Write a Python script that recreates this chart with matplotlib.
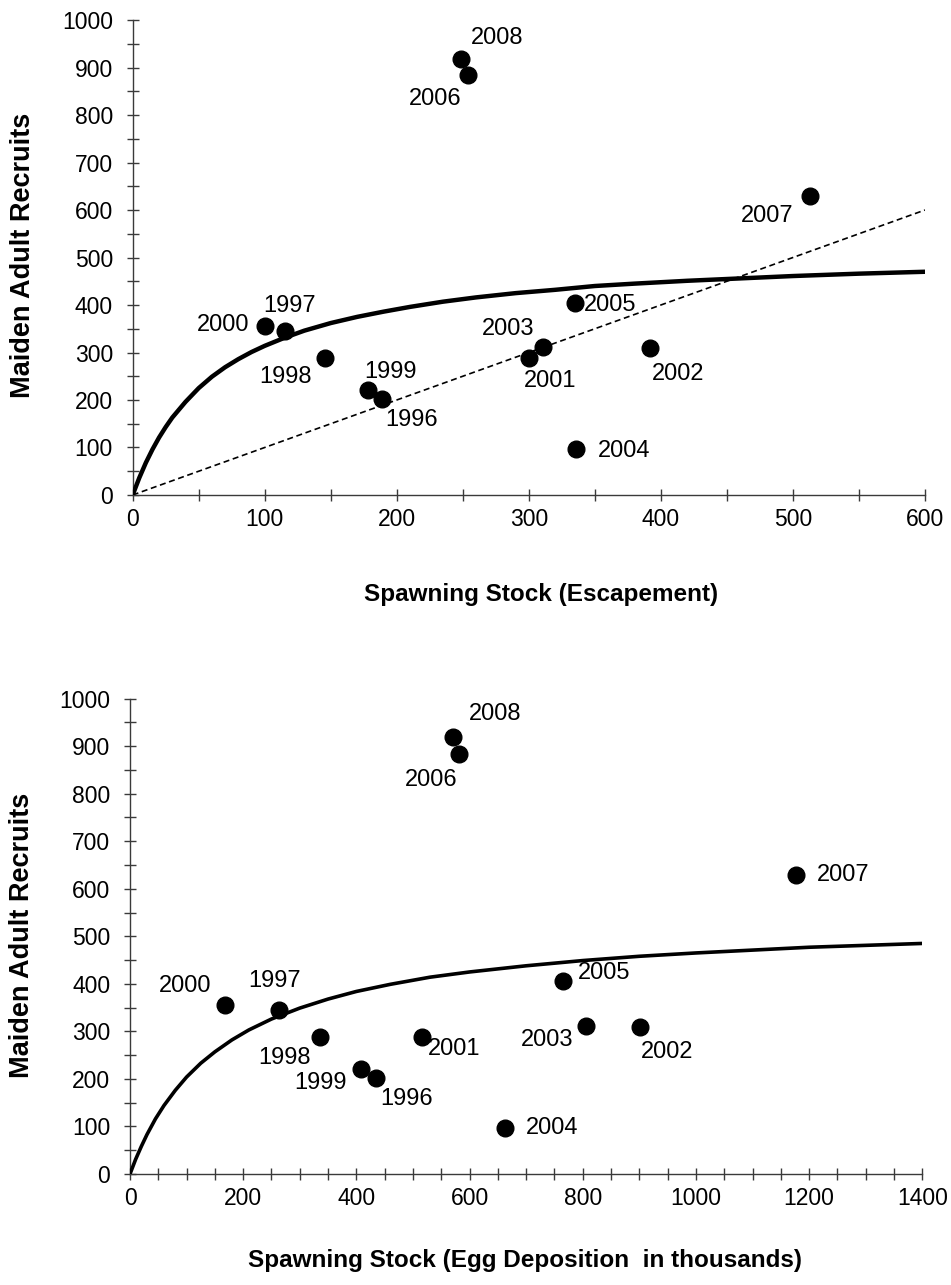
import numpy as np
import matplotlib.pyplot as plt
from matplotlib.ticker import MultipleLocator

plt.rcParams['font.family'] = ['Liberation Sans', 'DejaVu Sans']

# ---------- datos ----------
years = ['1996', '1997', '1998', '1999', '2000', '2001', '2002',
         '2003', '2004', '2005', '2006', '2007', '2008']
recruits = [202, 345, 289, 221, 356, 289, 309, 311, 96, 405, 884, 629, 919]

escapement = [189, 115, 146, 178, 100, 300, 392, 311, 336, 335, 254, 513, 249]
eggs = [434, 264, 336, 408, 167, 516, 901, 805, 663, 765, 582, 1177, 570]

# curva stock-reclutamiento
bh_esc_x = [0, 5, 10, 15, 20, 25, 30, 40, 50, 60, 70, 80, 90, 100, 115, 130, 150,
            170, 190, 210, 235, 260, 290, 320, 350, 380, 420, 460, 500, 550, 600]
bh_esc_y = [0, 36, 68, 96, 121, 143, 163, 196, 225, 249, 269, 286, 301, 314, 331,
            346, 362, 375, 386, 396, 407, 416, 425, 432, 440, 445, 451, 456, 461,
            466, 470]

bh_egg_x = [0, 10, 20, 30, 45, 60, 80, 100, 125, 150, 180, 210, 250, 300, 350,
            400, 460, 530, 600, 700, 800, 900, 1000, 1100, 1200, 1300, 1400]
bh_egg_y = [0, 31, 58, 83, 116, 144, 176, 204, 233, 257, 282, 303, 326, 349, 368,
            384, 399, 414, 425, 438, 449, 458, 465, 471, 477, 481, 485]

# línea de reemplazo 1:1
repl_x = [0, 600]
repl_y = [0, 600]

# desplazamiento de etiquetas (pixeles)
off_top = {'2008': (36, 21), '2006': (-33, -24), '2000': (-42, 1), '1997': (5, 25),
           '1998': (-40, -19), '1999': (23, 18), '1996': (29, -21), '2003': (-35, 18),
           '2001': (21, -23), '2005': (35, -2), '2004': (48, -2), '2002': (28, -26),
           '2007': (-43, -20)}
off_bot = {'2008': (43, 23), '2006': (-28, -26), '2000': (-39, 19), '1997': (-5, 29),
           '1998': (-36, -21), '1999': (-40, -14), '1996': (31, -21), '2001': (32, -12),
           '2004': (47, 0), '2005': (41, 8), '2003': (-38, -14), '2002': (27, -25),
           '2007': (47, 0)}

AX_COL = '#3a3a3a'


def style_axes(ax, xmax, xmajor):
    ax.set_xlim(0, xmax)
    ax.set_ylim(0, 1000)
    ax.xaxis.set_major_locator(MultipleLocator(xmajor))
    ax.xaxis.set_minor_locator(MultipleLocator(50))
    ax.yaxis.set_major_locator(MultipleLocator(100))
    ax.yaxis.set_minor_locator(MultipleLocator(50))
    for s in ['top', 'right']:
        ax.spines[s].set_visible(False)
    for s in ['left', 'bottom']:
        ax.spines[s].set_color(AX_COL)
        ax.spines[s].set_linewidth(1.0)
    ax.tick_params(which='both', direction='inout', length=8.5, width=1.0,
                   color=AX_COL, labelsize=16.5)
    ax.tick_params(axis='y', which='major', pad=10)
    ax.tick_params(axis='x', which='major', pad=5)
    ax.set_ylabel('Maiden Adult Recruits', fontsize=19.5, fontweight='bold')


fig = plt.figure(figsize=(9.51, 12.85), dpi=100)

# ---------- panel superior ----------
ax1 = fig.add_axes([0.1395, 0.6148, 0.8331, 0.3696])
style_axes(ax1, 600, 100)
ax1.plot(repl_x, repl_y, color='black', lw=1.2, ls=(0, (3.6, 2.2)), zorder=2)
ax1.plot(bh_esc_x, bh_esc_y, color='black', lw=3.2, solid_joinstyle='round',
         solid_capstyle='round', zorder=3)
ax1.plot(escapement, recruits, 'o', color='black', ms=12, zorder=4, clip_on=False)
for yr, x, y in zip(years, escapement, recruits):
    ax1.annotate(yr, (x, y), xytext=off_top[yr], textcoords='offset pixels',
                 ha='center', va='center', fontsize=17)
ax1.set_xlabel('Spawning Stock (Escapement)', fontsize=17.5, fontweight='bold')
ax1.xaxis.set_label_coords(0.515, -0.21)
ax1.xaxis.label.set_va('center')
ax1.yaxis.set_label_coords(-0.139, 0.505)
ax1.yaxis.label.set_va('center')

# ---------- panel inferior ----------
ax2 = fig.add_axes([0.1367, 0.0864, 0.8332, 0.3699])
style_axes(ax2, 1400, 200)
ax2.plot(bh_egg_x, bh_egg_y, color='black', lw=2.6, solid_joinstyle='round',
         solid_capstyle='round', zorder=3)
ax2.plot(eggs, recruits, 'o', color='black', ms=12, zorder=4, clip_on=False)
for yr, x, y in zip(years, eggs, recruits):
    ax2.annotate(yr, (x, y), xytext=off_bot[yr], textcoords='offset pixels',
                 ha='center', va='center', fontsize=17)
ax2.set_xlabel('Spawning Stock (Egg Deposition  in thousands)', fontsize=17.5,
               fontweight='bold')
ax2.xaxis.set_label_coords(0.4985, -0.181)
ax2.xaxis.label.set_va('center')
ax2.yaxis.set_label_coords(-0.136, 0.503)
ax2.yaxis.label.set_va('center')

fig.savefig('out.png', dpi=100)
